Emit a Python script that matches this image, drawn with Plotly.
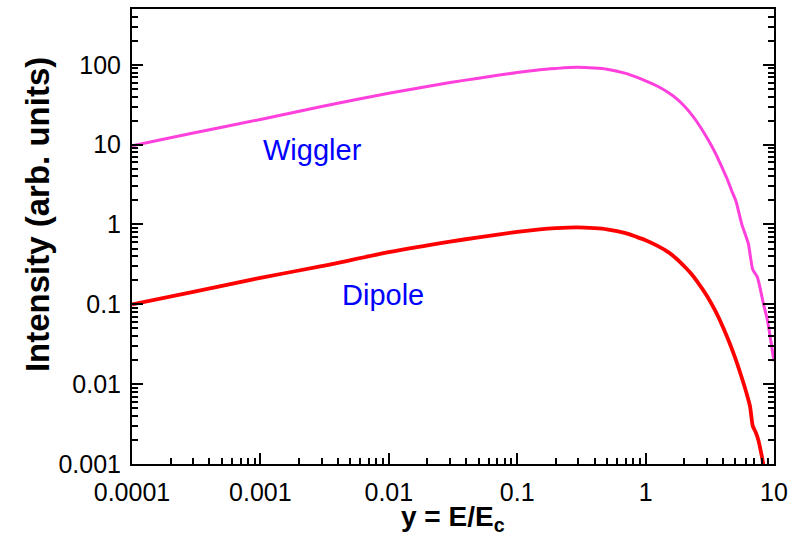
import plotly.graph_objects as go

# ---- data ----
dipole_x = [1e-4, 3e-4, 1e-3, 3e-3, 0.01, 0.03, 0.05, 0.1, 0.15, 0.2, 0.29, 0.4, 0.5, 0.7,
            0.85, 1.0, 1.25, 1.5, 1.75, 2.0, 2.25, 2.5, 3.0, 3.5, 4.0, 4.5, 5.0, 5.5, 6.0, 6.5,
            6.83, 7.2, 7.55, 8.0, 8.3, 8.5]
dipole_y = [0.1, 0.143, 0.215, 0.30, 0.45, 0.61, 0.69, 0.81, 0.87, 0.90, 0.92, 0.90, 0.87, 0.78,
            0.70, 0.635, 0.535, 0.45, 0.37, 0.30, 0.245, 0.197, 0.128, 0.082, 0.052, 0.033, 0.021,
            0.0133, 0.0085, 0.0053, 0.0030, 0.0025, 0.0020, 0.0013, 0.00095, 0.0008]

wiggler_x = [1e-4, 3e-4, 1e-3, 3e-3, 0.01, 0.03, 0.05, 0.1, 0.15, 0.2, 0.29, 0.4, 0.5, 0.7,
             0.85, 1.0, 1.25, 1.5, 1.75, 2.0, 2.25, 2.5, 3.0, 3.5, 4.0, 4.28, 4.68, 5.06, 5.6,
             6.31, 6.83, 7.41, 8.26, 8.87, 10]
wiggler_y = [9.7, 14.0, 20.7, 30.0, 44.0, 60.0, 68.0, 80.0, 87.0, 90.0, 93.0, 91.0, 88.0, 78.0,
             70.0, 63.0, 53.5, 45.0, 37.5, 30.5, 24.5, 19.5, 12.3, 7.8, 4.9, 3.85, 2.65, 1.95,
             1.02, 0.575, 0.273, 0.221, 0.103, 0.064, 0.0193]

x_tickvals = [1e-4, 1e-3, 1e-2, 1e-1, 1, 10]
x_ticktext = ["0.0001", "0.001", "0.01", "0.1", "1", "10"]
y_tickvals = [1e-3, 1e-2, 1e-1, 1, 10, 100]
y_ticktext = ["0.001", "0.01", "0.1", "1", "10", "100"]

FONT = "Liberation Sans, Arial, Helvetica, sans-serif"

fig = go.Figure()
fig.add_trace(go.Scatter(x=wiggler_x, y=wiggler_y, mode="lines",
                         line=dict(color="#ff40dc", width=3, shape="spline", smoothing=0.6),
                         showlegend=False))
fig.add_trace(go.Scatter(x=dipole_x, y=dipole_y, mode="lines",
                         line=dict(color="#ff0000", width=3.8, shape="spline", smoothing=0.6),
                         showlegend=False))

L, R, T, B = 132, 22, 7, 81
W, H = 796, 545
pw, ph = W - L - R, H - T - B

def px2paper(px, py):
    return (px - L) / pw, (H - B - py) / ph

axis_common = dict(
    showgrid=False, zeroline=False, showline=True, linecolor="black", linewidth=2,
    ticks="inside", ticklen=11, tickwidth=2, tickcolor="black",
    tickfont=dict(family=FONT, size=25, color="black"),
    minor=dict(ticks="inside", ticklen=6, tickwidth=1.5, tickcolor="black",
               dtick="D1", showgrid=False),
)

fig.update_xaxes(type="log", range=[-4, 1], tickvals=x_tickvals, ticktext=x_ticktext,
                 mirror=True, ticklabelstandoff=5, **axis_common)
fig.update_yaxes(type="log", range=[-3, 2.699], tickvals=y_tickvals, ticktext=y_ticktext,
                 mirror="ticks", ticklabelstandoff=4, **axis_common)

ax, ay = px2paper(312, 149)
dx, dy = px2paper(383, 294)
tx, ty = px2paper(453, 519)
yx, yy = px2paper(37, 214)

fig.add_annotation(x=ax, y=ay, xref="paper", yref="paper", text="Wiggler", showarrow=False,
                   xanchor="center", yanchor="middle",
                   font=dict(family=FONT, size=29, color="#0000ff"))
fig.add_annotation(x=dx, y=dy, xref="paper", yref="paper", text="Dipole", showarrow=False,
                   xanchor="center", yanchor="middle",
                   font=dict(family=FONT, size=29, color="#0000ff"))
fig.add_annotation(x=tx, y=ty, xref="paper", yref="paper", text="<b>y = E/E<sub>c</sub></b>",
                   showarrow=False, xanchor="center", yanchor="middle",
                   font=dict(family=FONT, size=28, color="black"))
fig.add_annotation(x=yx, y=yy, xref="paper", yref="paper", text="<b>Intensity (arb. units)</b>",
                   showarrow=False, textangle=-90, xanchor="center", yanchor="middle",
                   font=dict(family=FONT, size=33, color="black"))

fig.update_layout(width=W, height=H, margin=dict(l=L, r=R, t=T, b=B),
                  plot_bgcolor="white", paper_bgcolor="white")

fig.write_html("out.html", config={"displayModeBar": False},
               post_script="document.body.style.margin='0';document.body.style.padding='0';")
